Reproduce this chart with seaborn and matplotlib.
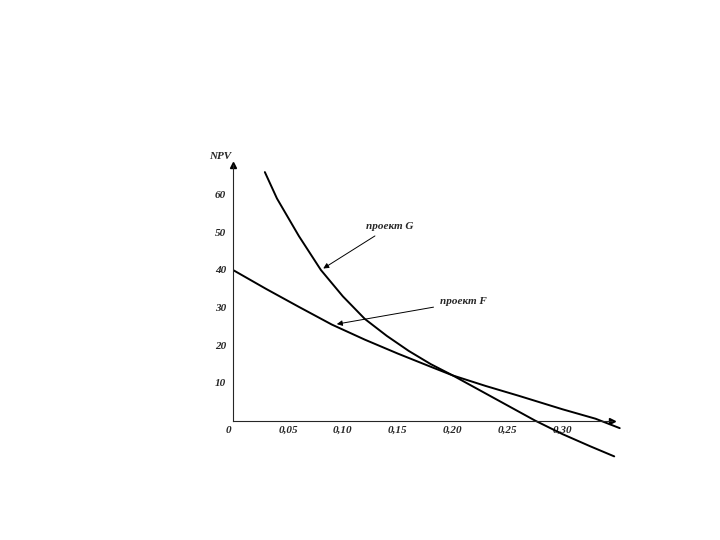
import numpy as np
import matplotlib
matplotlib.use("Agg")
import matplotlib.pyplot as plt
import seaborn as sns

# ставка дисконтирования и NPV
rate_g = [0.029, 0.04, 0.05, 0.06, 0.07, 0.08, 0.10, 0.12, 0.14, 0.16, 0.18, 0.20, 0.22, 0.24, 0.26, 0.275, 0.30, 0.325, 0.347]
npv_g = [66, 59, 54, 49, 44.5, 40, 33, 27, 22.5, 18.5, 15, 12, 8.8, 5.6, 2.4, 0, -3.6, -6.8, -9.5]
rate_f = [0.0, 0.03, 0.06, 0.09, 0.12, 0.15, 0.18, 0.20, 0.23, 0.26, 0.30, 0.33, 0.352]
npv_f = [40, 35, 30.2, 25.5, 21.5, 17.8, 14.3, 12, 9.2, 6.6, 3.0, 0.5, -2]
xticks = [0.05, 0.10, 0.15, 0.20, 0.25, 0.30]
xlabels = ["0,05", "0,10", "0,15", "0,20", "0,25", "0,30"]
yticks = [10, 20, 30, 40, 50, 60]

sns.set_style("white")
plt.rcParams['font.family'] = ['Liberation Serif', 'DejaVu Serif']

fig = plt.figure(figsize=(7.2, 5.4), dpi=100)
ax = fig.add_axes([0.3236, 0.1444, 0.5417, 0.5648])

sns.lineplot(x=rate_g, y=npv_g, ax=ax, color="black", lw=1.4, sort=False)
sns.lineplot(x=rate_f, y=npv_f, ax=ax, color="black", lw=1.4, sort=False)

ax.set_xlim(0, 0.355)
ax.set_ylim(-11, 70)
for s in ["top", "right"]:
    ax.spines[s].set_visible(False)
ax.spines["bottom"].set_position(("data", 0))
ax.spines["bottom"].set_bounds(0, 0.345)
ax.spines["left"].set_bounds(0, 68)
for s in ["bottom", "left"]:
    ax.spines[s].set_linewidth(0.8)
ax.plot(0.345, 0, ">", color="black", ms=5, clip_on=False)
ax.plot(0, 68, "^", color="black", ms=5, clip_on=False)

fnt = dict(fontsize=8, fontstyle="italic", fontweight="bold")
ax.set_xticks(xticks)
ax.set_xticklabels(xlabels, **fnt)
ax.set_yticks(yticks)
ax.set_yticklabels([str(v) for v in yticks], **fnt)
ax.tick_params(axis="x", direction="in", length=4, pad=4, width=0.6)
ax.tick_params(axis="y", direction="out", length=3, pad=2, width=0.6)
ax.text(-0.002, -1.3, "0", ha="right", va="top", **fnt)
ax.text(-0.002, 69, "NPV", ha="right", va="bottom", **fnt)

arw = dict(arrowstyle="-|>", color="black", lw=0.7, mutation_scale=8)
ax.annotate("проект G", xy=(0.08, 40), xytext=(0.121, 51.5), va="center",
            arrowprops=arw, **fnt)
ax.annotate("проект F", xy=(0.092, 25.5), xytext=(0.188, 31.5), va="center",
            arrowprops=arw, **fnt)

fig.savefig("out.png", dpi=100)
